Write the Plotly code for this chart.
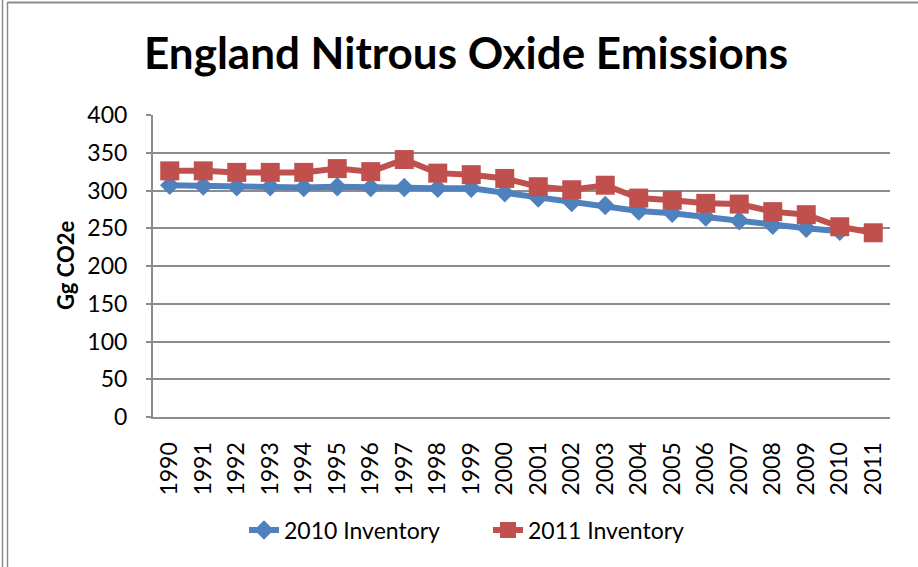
import plotly.graph_objects as go

years = [str(y) for y in range(1990, 2012)]
inv2010_years = years[:21]
inv2010 = [307, 306, 305, 305, 304, 305, 304, 304, 303, 303, 297,
           290, 284, 280, 273, 270, 265, 260, 254, 250, 246]
inv2011 = [326, 326, 324, 324, 324, 329, 325, 341, 323, 321, 316,
           305, 301, 307, 290, 287, 283, 282, 272, 268, 252, 244]
y_ticks = [0, 50, 100, 150, 200, 250, 300, 350, 400]

BLUE = "#4F81BD"
RED = "#C0504D"
GRID = "#8C8C8C"
FONT = "Lato, Carlito, Calibri, sans-serif"

fig = go.Figure()
fig.add_trace(go.Scatter(
    x=inv2010_years, y=inv2010, name="2010 Inventory", mode="lines+markers",
    line=dict(color=BLUE, width=6),
    marker=dict(symbol="diamond", size=15, color=BLUE),
))
fig.add_trace(go.Scatter(
    x=years, y=inv2011, name="2011 Inventory", mode="lines+markers",
    line=dict(color=RED, width=6),
    marker=dict(symbol="square", size=19, color=RED),
))

W, H = 918, 567
L, R, T, B = 153, 28, 115, 150
pw, ph = W - L - R, H - T - B

def px(x):
    return (x - L) / pw

def py(y):
    return (H - B - y) / ph

fig.update_layout(
    width=W, height=H,
    margin=dict(l=L, r=R, t=T, b=B),
    paper_bgcolor="white", plot_bgcolor="white",
    font=dict(family=FONT, color="black", size=23),
    title=dict(text="<b>England Nitrous Oxide Emissions</b>",
               font=dict(family=FONT, size=44, color="black"),
               x=466 / W, xref="container", xanchor="center",
               y=1 - 54 / H, yref="container", yanchor="middle"),
    showlegend=True,
    legend=dict(orientation="h", x=px(244), xanchor="left",
                y=py(530), yanchor="middle",
                font=dict(family=FONT, size=23, color="black"),
                entrywidth=199, entrywidthmode="pixels",
                traceorder="normal"),
    xaxis=dict(type="category", categoryorder="array", categoryarray=years,
               showgrid=False, showline=True, linecolor=GRID, linewidth=2,
               ticks="", tickangle=-90, ticklabelstandoff=14,
               tickfont=dict(family=FONT, size=23, color="black"),
               range=[-0.5, len(years) - 0.5], zeroline=False),
    yaxis=dict(range=[0, 400], tickvals=y_ticks, showgrid=True,
               gridcolor=GRID, gridwidth=2, showline=True, linecolor=GRID,
               linewidth=2, ticks="outside", ticklen=5, tickcolor=GRID,
               tickwidth=2, ticklabelstandoff=14, zeroline=False,
               tickfont=dict(family=FONT, size=23, color="black")),
    annotations=[dict(text="<b>Gg CO2e</b>", x=px(65), y=py(266),
                      xref="paper", yref="paper", showarrow=False,
                      textangle=-90, font=dict(family=FONT, size=22, color="black"),
                      xanchor="center", yanchor="middle")],
    shapes=[
        dict(type="line", xref="paper", yref="paper", x0=px(2.5), x1=px(2.5),
             y0=py(0), y1=py(H), line=dict(color=GRID, width=1.5)),
        dict(type="line", xref="paper", yref="paper", x0=px(7.5), x1=px(7.5),
             y0=py(2), y1=py(H), line=dict(color=GRID, width=1.5)),
        dict(type="line", xref="paper", yref="paper", x0=px(7.5), x1=px(W),
             y0=py(2.5), y1=py(2.5), line=dict(color=GRID, width=2)),
    ],
)

fig.write_html(
    "out.html",
    config={"displayModeBar": False},
    post_script="document.body.style.margin='0';document.body.style.overflow='hidden';",
)
